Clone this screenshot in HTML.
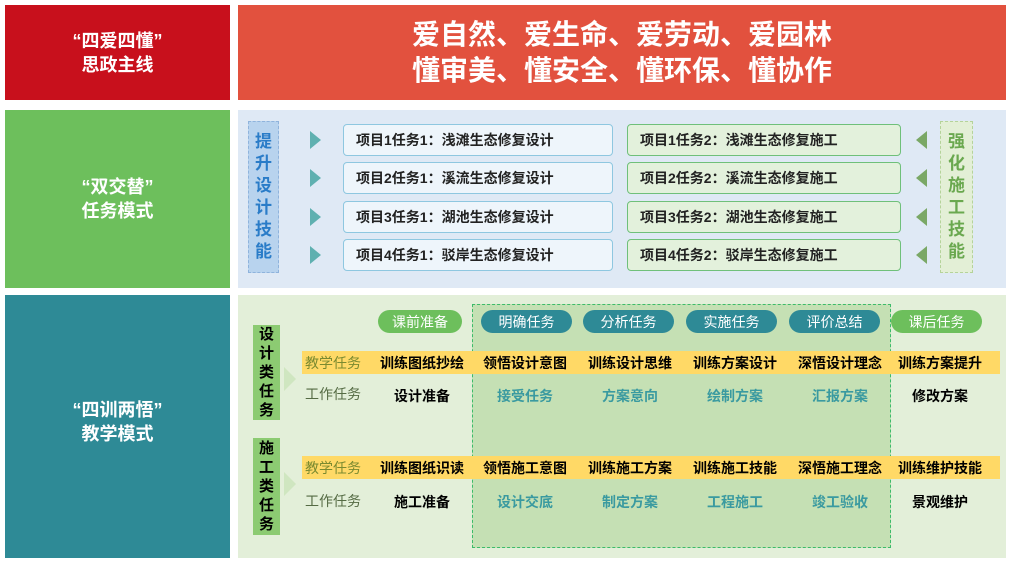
<!DOCTYPE html><html><head><meta charset="utf-8"><style>
*{margin:0;padding:0;box-sizing:border-box}
body{width:1010px;height:563px;background:#fff;position:relative;overflow:hidden;font-family:"Liberation Sans","Noto Sans CJK SC",sans-serif}
div{position:absolute}
.c{display:flex;align-items:center;justify-content:center;text-align:center}
.tl{color:#fff;font-weight:bold;font-size:18px;line-height:24px}
.lb{background:#fff;border-radius:4px;height:32px;font-size:14px;font-weight:bold;color:#222;display:flex;align-items:center;padding-left:12px}
.ar{width:0;height:0;border-top:9px solid transparent;border-bottom:9px solid transparent}
.pill{height:23px;border-radius:12px;color:#fff;font-size:14px;top:310px}
.cell{font-size:14px;font-weight:bold;width:100px;text-align:center}
</style></head><body>
<div class="c tl" style="left:5px;top:5px;width:225px;height:95px;background:#c8101c">“四爱四懂”<br>思政主线</div>
<div class="c" style="left:238px;top:5px;width:768px;height:95px;background:#e2513e;color:#fff;font-weight:bold;font-size:28px;line-height:36px">爱自然、爱生命、爱劳动、爱园林<br>懂审美、懂安全、懂环保、懂协作</div>
<div class="c tl" style="left:5px;top:110px;width:225px;height:178px;background:#6dbf5c">“双交替”<br>任务模式</div>
<div class="c tl" style="left:5px;top:295px;width:225px;height:263px;background:#2e8a96;padding-bottom:10px">“四训两悟”<br>教学模式</div>
<div style="left:238px;top:110px;width:768px;height:178px;background:#dfe9f5"></div>
<div class="c" style="left:248px;top:121px;width:31px;height:152px;background:#b8d3ee;border:1px dashed #8fb3dc;color:#2a7cc8;font-weight:bold;font-size:17px;line-height:22px">提<br>升<br>设<br>计<br>技<br>能</div>
<div class="c" style="left:940px;top:121px;width:33px;height:152px;background:#e3efd6;border:1px dashed #b5d39a;color:#6aa84f;font-weight:bold;font-size:17px;line-height:22px">强<br>化<br>施<br>工<br>技<br>能</div>
<div class="ar" style="left:310px;top:131px;border-left:11px solid #5fb0b0"></div>
<div class="ar" style="left:310px;top:169px;border-left:11px solid #5fb0b0"></div>
<div class="ar" style="left:310px;top:208px;border-left:11px solid #5fb0b0"></div>
<div class="ar" style="left:310px;top:246px;border-left:11px solid #5fb0b0"></div>
<div class="ar" style="left:916px;top:131px;border-right:11px solid #7aa866"></div>
<div class="ar" style="left:916px;top:169px;border-right:11px solid #7aa866"></div>
<div class="ar" style="left:916px;top:208px;border-right:11px solid #7aa866"></div>
<div class="ar" style="left:916px;top:246px;border-right:11px solid #7aa866"></div>
<div class="lb" style="left:343px;top:124px;width:270px;border:1.5px solid #8ec7e0;background:#eef5fb">项目1任务1：浅滩生态修复设计</div>
<div class="lb" style="left:343px;top:162px;width:270px;border:1.5px solid #8ec7e0;background:#eef5fb">项目2任务1：溪流生态修复设计</div>
<div class="lb" style="left:343px;top:201px;width:270px;border:1.5px solid #8ec7e0;background:#eef5fb">项目3任务1：湖池生态修复设计</div>
<div class="lb" style="left:343px;top:239px;width:270px;border:1.5px solid #8ec7e0;background:#eef5fb">项目4任务1：驳岸生态修复设计</div>
<div class="lb" style="left:627px;top:124px;width:274px;border:1.5px solid #6fc07a;background:#e3f1dc">项目1任务2：浅滩生态修复施工</div>
<div class="lb" style="left:627px;top:162px;width:274px;border:1.5px solid #6fc07a;background:#e3f1dc">项目2任务2：溪流生态修复施工</div>
<div class="lb" style="left:627px;top:201px;width:274px;border:1.5px solid #6fc07a;background:#e3f1dc">项目3任务2：湖池生态修复施工</div>
<div class="lb" style="left:627px;top:239px;width:274px;border:1.5px solid #6fc07a;background:#e3f1dc">项目4任务2：驳岸生态修复施工</div>
<div style="left:238px;top:295px;width:768px;height:263px;background:#e3efd9"></div>
<div style="left:472px;top:304px;width:419px;height:244px;background:#c5e0b4;border:1.5px dashed #3dbb6a"></div>
<div class="c pill" style="left:378px;width:84px;background:#6dbf5c">课前准备</div>
<div class="c pill" style="left:481px;width:91px;background:#2e8a96">明确任务</div>
<div class="c pill" style="left:583px;width:91px;background:#2e8a96">分析任务</div>
<div class="c pill" style="left:686px;width:91px;background:#2e8a96">实施任务</div>
<div class="c pill" style="left:789px;width:91px;background:#2e8a96">评价总结</div>
<div class="c pill" style="left:891px;width:91px;background:#6dbf5c">课后任务</div>
<div class="c" style="left:253px;top:325px;width:27px;height:95px;background:#8ccb72;font-weight:bold;font-size:15px;line-height:19px">设<br>计<br>类<br>任<br>务</div>
<div class="c" style="left:253px;top:438px;width:27px;height:97px;background:#8ccb72;font-weight:bold;font-size:15px;line-height:19px">施<br>工<br>类<br>任<br>务</div>
<div class="ar" style="left:284px;top:367px;border-top-width:12px;border-bottom-width:12px;border-left:12px solid #cfe6c0"></div>
<div class="ar" style="left:284px;top:472px;border-top-width:12px;border-bottom-width:12px;border-left:12px solid #cfe6c0"></div>
<div style="left:302px;top:351px;width:698px;height:23px;background:#ffd966"></div>
<div style="left:302px;top:456px;width:698px;height:23px;background:#ffd966"></div>
<div style="left:305px;top:353px;font-size:14px;color:#7a8a30">教学任务</div>
<div style="left:305px;top:384px;font-size:14px;color:#556b44">工作任务</div>
<div style="left:305px;top:458px;font-size:14px;color:#7a8a30">教学任务</div>
<div style="left:305px;top:491px;font-size:14px;color:#556b44">工作任务</div>
<div class="cell" style="left:372px;top:353px">训练图纸抄绘</div>
<div class="cell" style="left:475px;top:353px">领悟设计意图</div>
<div class="cell" style="left:580px;top:353px">训练设计思维</div>
<div class="cell" style="left:685px;top:353px">训练方案设计</div>
<div class="cell" style="left:790px;top:353px">深悟设计理念</div>
<div class="cell" style="left:890px;top:353px">训练方案提升</div>
<div class="cell" style="left:372px;top:386px">设计准备</div>
<div class="cell" style="left:475px;top:386px;color:#3a9aa0">接受任务</div>
<div class="cell" style="left:580px;top:386px;color:#3a9aa0">方案意向</div>
<div class="cell" style="left:685px;top:386px;color:#3a9aa0">绘制方案</div>
<div class="cell" style="left:790px;top:386px;color:#3a9aa0">汇报方案</div>
<div class="cell" style="left:890px;top:386px">修改方案</div>
<div class="cell" style="left:372px;top:458px">训练图纸识读</div>
<div class="cell" style="left:475px;top:458px">领悟施工意图</div>
<div class="cell" style="left:580px;top:458px">训练施工方案</div>
<div class="cell" style="left:685px;top:458px">训练施工技能</div>
<div class="cell" style="left:790px;top:458px">深悟施工理念</div>
<div class="cell" style="left:890px;top:458px">训练维护技能</div>
<div class="cell" style="left:372px;top:492px">施工准备</div>
<div class="cell" style="left:475px;top:492px;color:#3a9aa0">设计交底</div>
<div class="cell" style="left:580px;top:492px;color:#3a9aa0">制定方案</div>
<div class="cell" style="left:685px;top:492px;color:#3a9aa0">工程施工</div>
<div class="cell" style="left:790px;top:492px;color:#3a9aa0">竣工验收</div>
<div class="cell" style="left:890px;top:492px">景观维护</div>
</body></html>
